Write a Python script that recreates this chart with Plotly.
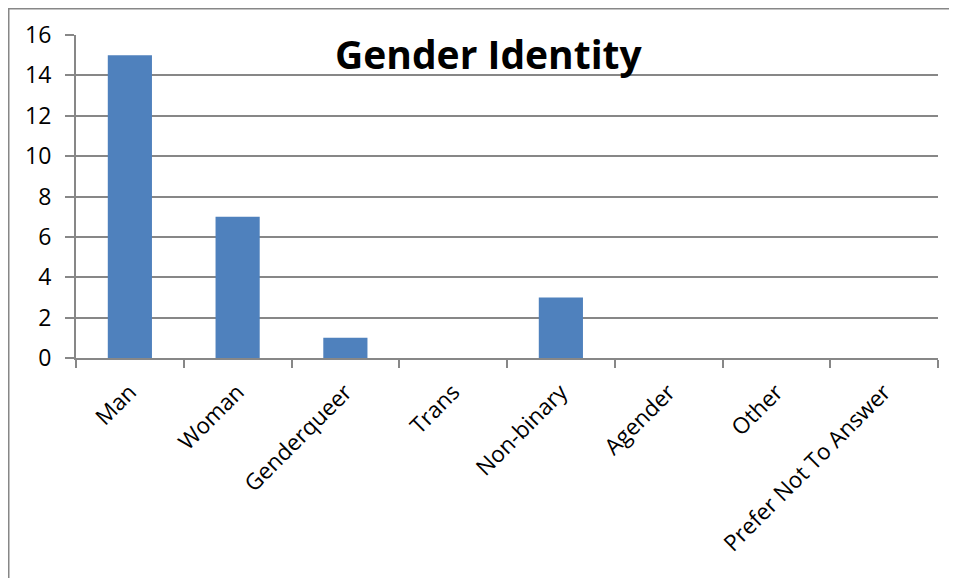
import plotly.graph_objects as go

categories = ["Man", "Woman", "Genderqueer", "Trans", "Non-binary", "Agender", "Other", "Prefer Not To Answer"]
counts = [15, 7, 1, 0, 3, 0, 0, 0]
y_ticks = [0, 2, 4, 6, 8, 10, 12, 14, 16]
title_text = "Gender Identity"

GRID = "#878787"
FONT = "Open Sans"

fig = go.Figure(
    go.Bar(
        x=categories,
        y=counts,
        marker=dict(color="#4F81BD", line=dict(width=0)),
    )
)

# the page adds an 8px body margin, so margins are reduced to compensate
fig.update_layout(
    width=957,
    height=578,
    margin=dict(l=68, r=27, t=27, b=228, autoexpand=False),
    paper_bgcolor="white",
    plot_bgcolor="white",
    bargap=0.59,
    showlegend=False,
    font=dict(family=FONT, size=21, color="black"),
)

fig.update_yaxes(
    range=[0, 16],
    tickvals=y_ticks,
    showgrid=True,
    gridcolor=GRID,
    gridwidth=2,
    showline=True,
    linecolor=GRID,
    linewidth=2,
    ticks="outside",
    ticklen=9,
    tickcolor=GRID,
    tickwidth=2,
    zeroline=False,
    ticklabelstandoff=9,
    tickfont=dict(family=FONT, size=23, color="black"),
)

fig.update_xaxes(
    type="category",
    tickangle=-45,
    tickson="boundaries",
    ticks="outside",
    ticklen=8,
    tickcolor=GRID,
    tickwidth=2,
    showline=True,
    linecolor=GRID,
    linewidth=2,
    showgrid=False,
    ticklabelstandoff=10,
    tickfont=dict(family=FONT, size=22.5, color="black"),
)

fig.add_annotation(
    text="<b>" + title_text + "</b>",
    xref="paper", yref="paper",
    x=0.479, y=0.943,
    xanchor="center", yanchor="middle",
    showarrow=False,
    font=dict(family=FONT, size=39, color="black"),
)

# outer chart frame (partly cut off on the right and bottom)
fig.add_shape(
    type="rect",
    xref="paper", yref="paper",
    x0=-0.0783, x1=1.2, y0=-1.0, y1=1.082,
    line=dict(color=GRID, width=2),
    fillcolor="rgba(0,0,0,0)",
    layer="below",
)

fig.write_html("out.html")
